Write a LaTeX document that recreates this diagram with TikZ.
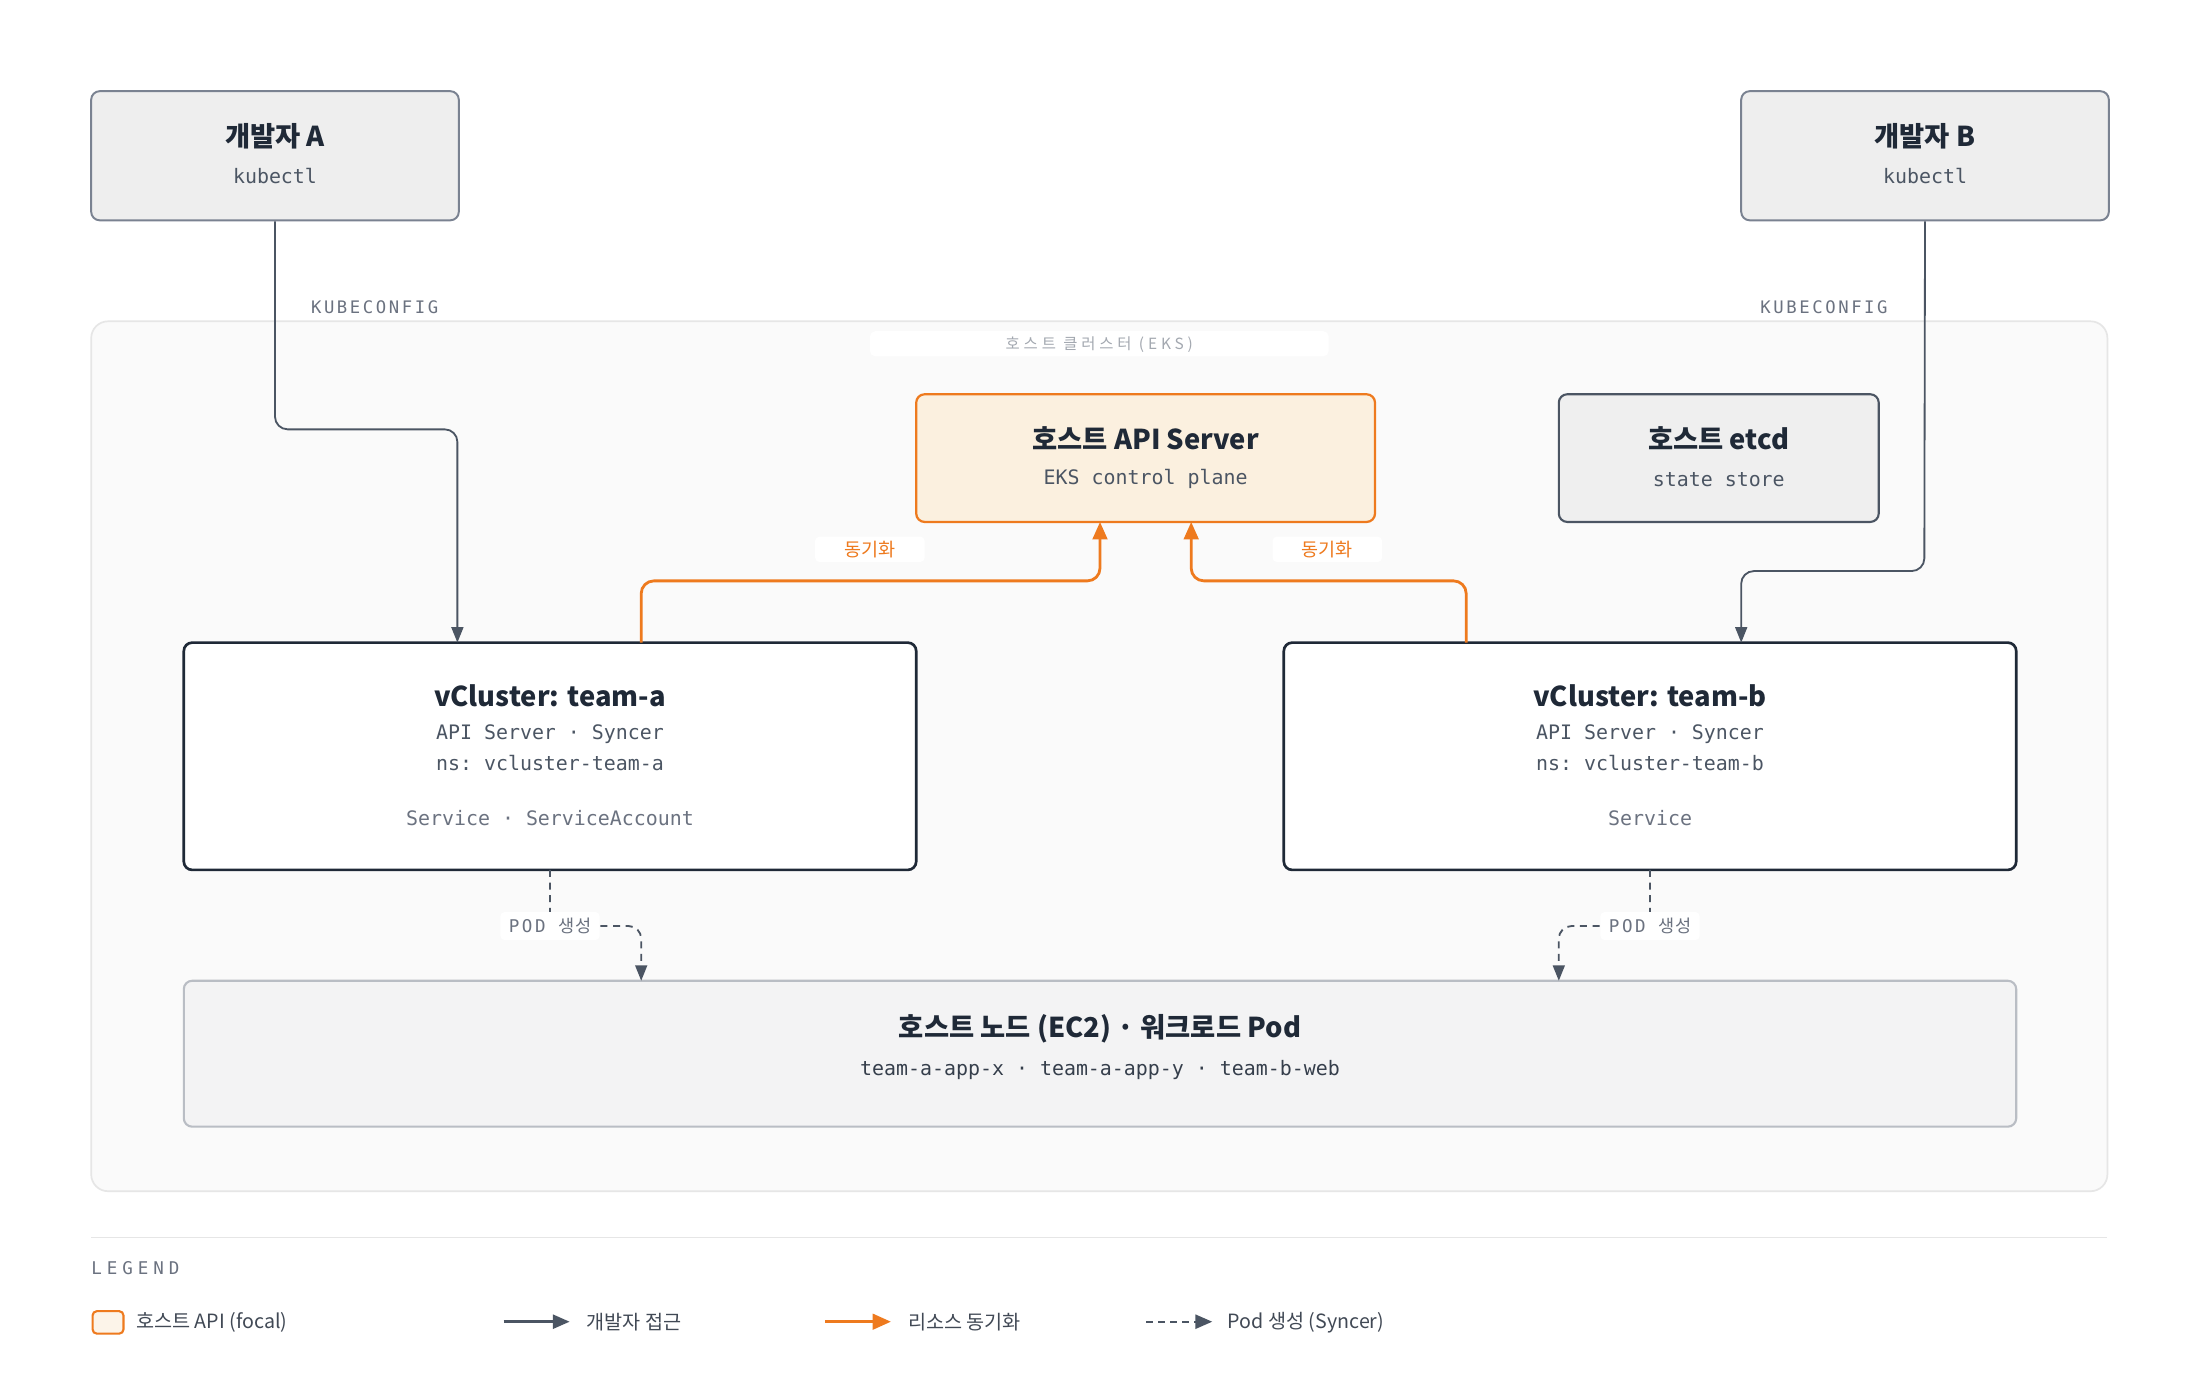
\documentclass[tikz,border=0pt]{standalone}
\usepackage{fontspec}
\setmainfont{Noto Sans CJK KR}
\newfontfamily\kr{Noto Sans CJK KR}
\newfontfamily\krsp{Noto Sans CJK KR}[LetterSpace=25]
\setmonofont{DejaVu Sans Mono}
\newfontfamily\monosp{DejaVu Sans Mono}[LetterSpace=15]
\newfontfamily\monospw{DejaVu Sans Mono}[LetterSpace=28]
\usetikzlibrary{arrows.meta}
\definecolor{ink}{HTML}{1F2937}
\definecolor{sub}{HTML}{4B5563}
\definecolor{muted}{HTML}{6B7280}
\definecolor{faint}{HTML}{A3A8B0}
\definecolor{org}{HTML}{EE7A1E}
\definecolor{cream}{HTML}{FBF0DF}
\definecolor{devfill}{HTML}{EEEEEE}
\definecolor{devline}{HTML}{7A8291}
\definecolor{clfill}{HTML}{FAFAFA}
\definecolor{clline}{HTML}{E6E6E6}
\definecolor{nodefill}{HTML}{F3F3F4}
\definecolor{nodeline}{HTML}{B9BDC4}
\definecolor{etcdfill}{HTML}{EFEFEF}
\tikzset{
  boxbase/.style={rectangle, rounded corners=6pt, inner sep=0pt},
  devbox/.style={boxbase, fill=devfill, draw=devline, line width=1.4pt, minimum width=262pt, minimum height=92pt},
  apibox/.style={boxbase, fill=cream, draw=org, line width=1.6pt, minimum width=327pt, minimum height=91pt},
  etcdbox/.style={boxbase, fill=etcdfill, draw=sub, line width=1.5pt, minimum width=228pt, minimum height=91pt},
  vcbox/.style={boxbase, fill=white, draw=ink, line width=1.9pt, minimum width=522pt, minimum height=162pt},
  hostbox/.style={boxbase, fill=nodefill, draw=nodeline, line width=1.5pt, minimum width=1306pt, minimum height=104pt},
  ttl/.style={font=\fontsize{19.5}{22}\selectfont\bfseries, text=ink, inner sep=0pt},
  mono/.style={font=\fontsize{14.2}{16}\ttfamily, text=sub, inner sep=0pt},
  monomuted/.style={font=\fontsize{14.2}{16}\ttfamily, text=muted, inner sep=0pt},
  tag/.style={fill=white, rounded corners=3pt, inner xsep=8pt, inner ysep=3pt},
  devarrow/.style={draw=sub, line width=1.3pt, rounded corners=9pt, -{Triangle[length=11pt,width=8.5pt]}},
  syncarrow/.style={draw=org, line width=2pt, rounded corners=9pt, -{Triangle[length=12.5pt,width=10.5pt]}},
  podarrow/.style={draw=sub, line width=1.3pt, rounded corners=9pt, dash pattern=on 5pt off 4pt, -{Triangle[length=11pt,width=8.5pt]}},
  legtext/.style={font=\fontsize{14}{16}\selectfont, text=ink!85, anchor=west, inner sep=0pt},
}
\begin{document}
\begin{tikzpicture}[x=1pt,y=-1pt]
\useasboundingbox (0,0) rectangle (1568,980.7);
\fill[white] (0,0) rectangle (1568,980.7);

% host cluster
\node[boxbase, rounded corners=12pt, fill=clfill, draw=clline, line width=1.2pt, minimum width=1437pt, minimum height=620pt] (cluster) at (783.5,539) {};
\node[tag, minimum width=327pt, minimum height=18pt, rounded corners=4pt] (cllabel) at (783.5,245) {};
\node[font=\fontsize{11}{13}\krsp, text=faint, inner sep=0pt] (cltext) at (783.5,245.5) {호스트 클러스터 (EKS)};

% developers
\node[devbox] (devA) at (196,111) {};
\node[ttl] (devAt) at (196,97) {개발자 A};
\node[mono] (devAs) at (196,125.5) {kubectl};
\node[devbox] (devB) at (1372,111) {};
\node[ttl] (devBt) at (1372,97) {개발자 B};
\node[mono] (devBs) at (1372,125.5) {kubectl};

% host API server and etcd
\node[apibox] (api) at (816.5,326.5) {};
\node[ttl] (apit) at (816.5,312.5) {호스트 API Server};
\node[mono] (apis) at (816.5,341.5) {EKS control plane};
\node[etcdbox] (etcd) at (1225,326.5) {};
\node[ttl] (etcdt) at (1225,312.5) {호스트 etcd};
\node[mono] (etcds) at (1225,341.5) {state store};

% vclusters
\node[vcbox] (vca) at (392,539) {};
\node[ttl] (vcat) at (392,496) {vCluster: team-a};
\node[mono] (vca1) at (392,523.5) {API Server · Syncer};
\node[mono] (vca2) at (392,543.5) {ns: vcluster-team-a};
\node[monomuted] (vca3) at (392,583) {Service · ServiceAccount};
\node[vcbox] (vcb) at (1176,539) {};
\node[ttl] (vcbt) at (1176,496) {vCluster: team-b};
\node[mono] (vcb1) at (1176,523.5) {API Server · Syncer};
\node[mono] (vcb2) at (1176,543.5) {ns: vcluster-team-b};
\node[monomuted] (vcb3) at (1176,583) {Service};

% host node
\node[hostbox] (host) at (784,751) {};
\node[ttl] (hostt) at (784,733.5) {호스트 노드 (EC2) · 워크로드 Pod};
\node[mono, text=ink!90] (hosts) at (784,762.5) {team-a-app-x · team-a-app-y · team-b-web};

% developer connectors
\coordinate (aIn) at (326,458);
\coordinate (bIn) at (1241,458);
\draw[devarrow] (devA.south) -- (196,306) -- (326,306) -- (aIn);
\draw[devarrow] (devB.south) -- (1371.5,407) -- (1241,407) -- (bIn);
\node[tag, font=\fontsize{12.3}{13}\monosp, text=muted, inner ysep=2pt] (kcA) at (267,219) {KUBECONFIG};
\node[tag, font=\fontsize{12.3}{13}\monosp, text=muted, inner ysep=2pt] (kcB) at (1300,219) {KUBECONFIG};

% sync connectors
\coordinate (aOut) at (457,458);
\coordinate (bOut) at (1045,458);
\coordinate (apiInA) at (784,372);
\coordinate (apiInB) at (849,372);
\draw[syncarrow] (aOut) -- (457,414) -- (784,414) -- (apiInA);
\draw[syncarrow] (bOut) -- (1045,414) -- (849,414) -- (apiInB);
\node[tag, minimum width=78pt, minimum height=18pt, font=\fontsize{13.2}{14}\selectfont, text=org] (syA) at (620,391.5) {동기화};
\node[tag, minimum width=78pt, minimum height=18pt, font=\fontsize{13.2}{14}\selectfont, text=org] (syB) at (946,391.5) {동기화};

% pod creation connectors
\coordinate (podA) at (457,699);
\coordinate (podB) at (1111,699);
\draw[podarrow] (392,620) -- (392,660) -- (457,660) -- (podA);
\draw[podarrow] (1176,620) -- (1176,660) -- (1111,660) -- (podB);
\node[tag, inner xsep=6pt, minimum height=20pt, font=\fontsize{12.5}{13}\monosp, text=muted] (pcA) at (392,660) {POD {\kr 생성}};
\node[tag, inner xsep=6pt, minimum height=20pt, font=\fontsize{12.5}{13}\monosp, text=muted] (pcB) at (1176,660) {POD {\kr 생성}};

% legend
\draw[clline, line width=1.2pt] (65,882) -- (1502,882);
\node[font=\fontsize{12.5}{13}\monospw, text=muted, anchor=west, inner sep=0pt] (legend) at (65,903.5) {LEGEND};
\node[boxbase, rounded corners=3pt, fill=cream!70, draw=org, line width=1.5pt, minimum width=22pt, minimum height=16pt] (lg1) at (77,942.5) {};
\node[legtext] (lg1t) at (97,942.5) {호스트 API (focal)};
\coordinate (lg2a) at (359,942);
\coordinate (lg2b) at (406,942);
\draw[draw=sub, line width=1.8pt, -{Triangle[length=12pt,width=10pt]}] (lg2a) -- (lg2b);
\node[legtext] (lg2t) at (418,942.5) {개발자 접근};
\coordinate (lg3a) at (588,942);
\coordinate (lg3b) at (635,942);
\draw[draw=org, line width=2.2pt, -{Triangle[length=13pt,width=11pt]}] (lg3a) -- (lg3b);
\node[legtext] (lg3t) at (647,942.5) {리소스 동기화};
\coordinate (lg4a) at (817,942);
\coordinate (lg4b) at (864,942);
\draw[draw=sub, line width=1.6pt, dash pattern=on 5pt off 3.5pt, -{Triangle[length=12pt,width=10pt]}] (lg4a) -- (lg4b);
\node[legtext] (lg4t) at (875,942.5) {Pod 생성 (Syncer)};
\end{tikzpicture}
\end{document}
